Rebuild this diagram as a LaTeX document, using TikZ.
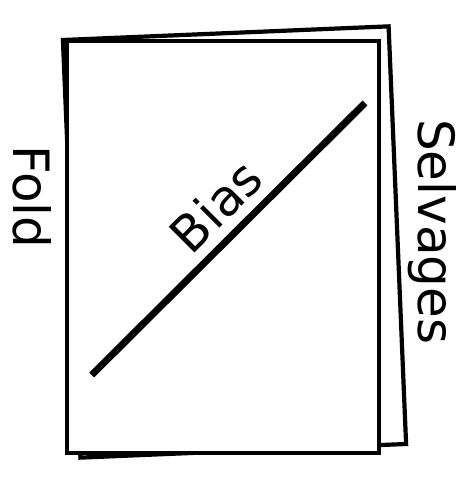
\documentclass[tikz,border=0pt]{standalone}
\usepackage{fontspec}
\setmainfont{DejaVu Sans}
\usetikzlibrary{positioning}

\begin{document}
\begin{tikzpicture}[x=1pt, y=1pt,
		    every node/.style={inner sep=0pt, font=\fontsize{50}{60}\selectfont}
		]
		\tikzset{
		    folha/.style={draw, rectangle, line width=4.2pt, fill=white},
		    rotulo/.style={anchor=base west}
		}
		\useasboundingbox (0,0) rectangle (467,479);
		\node[folha, rotate=2.4, minimum width=326pt, minimum height=418pt] (tras) at (234.5,237) {};
		\node[folha, minimum width=312pt, minimum height=412pt] (frente) at (223,232) {}; % folha da frente
		\coordinate (vies1) at (91.7,104);
		\coordinate (vies2) at (365,376);
		\draw[line width=7pt] (vies1) -- (vies2);
		\node[anchor=base, rotate=45] (bias) at (229,260) {Bias};
		\node[rotulo, rotate=-90] (fold) at (13,334) {Fold};
		\node[rotulo, rotate=-90] (selvages) at (418,360) {Selvages};
		\end{tikzpicture}
\end{document}
